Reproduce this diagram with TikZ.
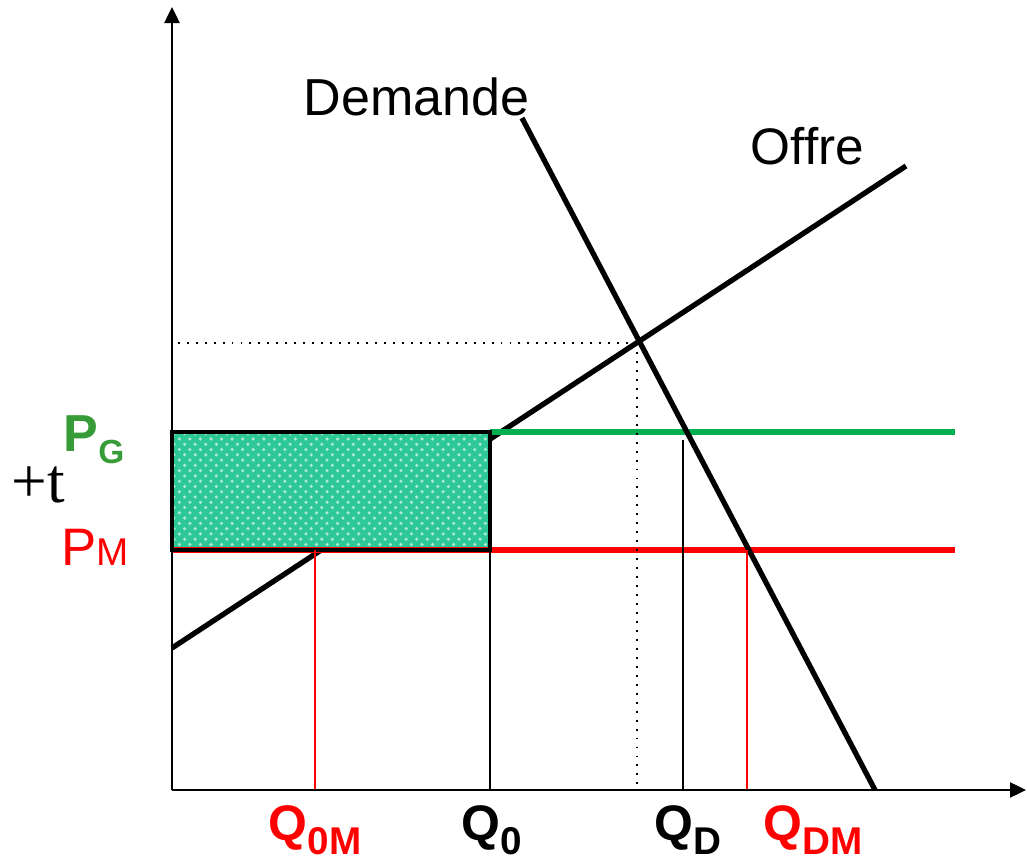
\documentclass[tikz,border=0pt]{standalone}
\usepackage{fontspec}
\setmainfont{Liberation Sans}
\newfontfamily\timesfont{Liberation Serif}
\usetikzlibrary{arrows.meta, patterns}
\definecolor{lineG}{RGB}{0,176,80}
\definecolor{textG}{RGB}{55,155,55}
\definecolor{lineM}{RGB}{255,0,0}
\definecolor{hatchfill}{RGB}{45,200,150}

\begin{document}
\begin{tikzpicture}[
  x=0.01cm, y=-0.01cm,
  axis/.style  = {line width=0.7pt, -{Triangle[length=0.16cm, width=0.15cm]}},
  curve/.style = {line width=1.5pt},
  price/.style = {line width=1.6pt},
  guide/.style = {line width=0.55pt},
  lbl/.style   = {inner sep=0pt, anchor=base west}
]
\useasboundingbox (0,0) rectangle (1027,861);
% Axes
\coordinate (O)  at (172,790);
\coordinate (Ytop) at (172,7);
\coordinate (Xend) at (1026,790);
% Curves
\coordinate (S1) at (172,648);
\coordinate (S2) at (906,166);
\coordinate (D1) at (522,118);
\coordinate (D2) at (875,790);
\coordinate (E)  at (637,343);
% Price levels
\coordinate (PGl) at (172,432);
\coordinate (PGm) at (490,432);
\coordinate (PGr) at (955,432);
\coordinate (PMl) at (172,550);
\coordinate (PMm) at (490,550);
\coordinate (PMr) at (955,550);
% Supply (under the box)
\draw[curve] (S1) -- (S2);
% Tariff box
\fill[hatchfill] (PGl) rectangle (PMm);
\fill[pattern=crosshatch dots, pattern color=white!60!hatchfill] (PGl) rectangle (PMm);
% Price lines
\draw[price, lineM] (PMl) -- (PMr);
\draw[price, lineG] (PGm) -- (PGr);
\draw[line width=0.9pt] (PGl) rectangle (PMm);
% Demand
\draw[curve] (D1) -- (D2);
% Dotted equilibrium
\draw[guide, dotted, line width=0.8pt] (E) -- (E -| O);
\draw[guide, dotted, line width=0.8pt] (E) -- (E |- O);
% Quantities
\coordinate (Q0M) at (315,550);
\coordinate (QD)  at (683,440);
\coordinate (QDM) at (747,550);
\draw[guide, lineM] (Q0M) -- (Q0M |- O);
\draw[guide] (PGm) -- (PGm |- O);
\draw[guide] (QD) -- (QD |- O);
\draw[guide, lineM] (QDM) -- (QDM |- O);
\draw[axis] (O) -- (Ytop);
\draw[axis] (O) -- (Xend);
% Labels
\node[lbl, font=\fontsize{14.8}{16}\selectfont] (dem) at (303,116) {Demande};
\node[lbl, font=\fontsize{14.6}{16}\selectfont] (off) at (750,165) {Offre};
\node[lbl, textG, font=\bfseries\fontsize{14.8}{16}\selectfont] (pg) at (63,452)
  {P\raisebox{-3.4pt}{\fontsize{9.5}{10}\selectfont G}};
\node[lbl, font=\timesfont\fontsize{18}{20}\selectfont] (tax) at (11,503) {+t};
\node[lbl, lineM, font=\fontsize{15}{16}\selectfont] (pm) at (61,565)
  {P\fontsize{11}{11}\selectfont M};
\node[lbl, lineM, font=\bfseries\fontsize{14.2}{16}\selectfont] (q0m) at (268,840)
  {Q\raisebox{-4pt}{\fontsize{11}{11}\selectfont 0M}};
\node[lbl, font=\bfseries\fontsize{14.2}{16}\selectfont] (q0) at (461,840)
  {Q\raisebox{-4pt}{\fontsize{11}{11}\selectfont 0}};
\node[lbl, font=\bfseries\fontsize{14.2}{16}\selectfont] (qd) at (654,840)
  {Q\raisebox{-4pt}{\fontsize{11}{11}\selectfont D}};
\node[lbl, lineM, font=\bfseries\fontsize{14.2}{16}\selectfont] (qdm) at (763,840)
  {Q\raisebox{-4pt}{\fontsize{11}{11}\selectfont DM}};
\end{tikzpicture}
\end{document}
